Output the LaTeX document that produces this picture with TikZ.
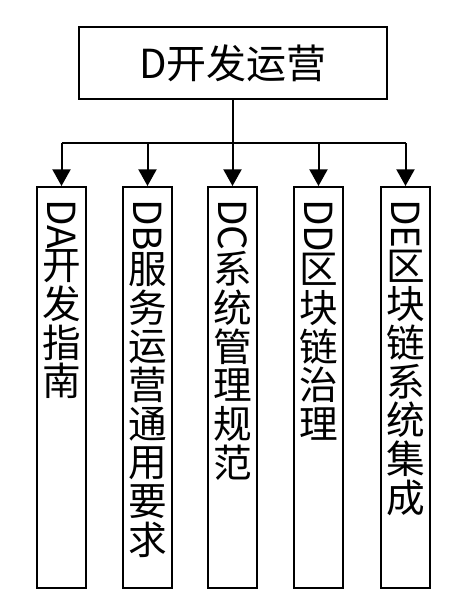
\documentclass[tikz,border=0pt]{standalone}
\usepackage{fontspec}
\setmainfont{Noto Sans CJK SC}
\usetikzlibrary{arrows.meta,positioning}
\newcommand\vlat[1]{\rotatebox{-90}{#1}}
\tikzset{every picture/.append style={line width=1.5pt}}

\begin{document}
\begin{tikzpicture}[x=0.75pt,y=-0.75pt]
      \tikzstyle{head}=[rectangle,draw,minimum width=231pt,minimum height=54pt,font=\fontsize{30}{30}\selectfont]
      \tikzstyle{column}=[rectangle,draw,minimum width=36.75pt,minimum height=300.75pt,anchor=north]
      \tikzstyle{vtext}=[anchor=north,align=center,inner sep=0pt,font=\fontsize{29}{29}\selectfont]
      \useasboundingbox (0,0) rectangle (460,612);
      \node[head] at (233,63) (D) {D开发运营};
      \coordinate (J) at (233,143);
      \node[column] at (61.5,186) (DA) {};
      \node[column] at (147.5,186) (DB) {};
      \node[column] at (232.5,186) (DC) {};
      \node[column] at (318.5,186) (DD) {};
      \node[column] at (405.5,186) (DE) {};
      \node[vtext,below=9pt of DA.north] (DAt) {\vlat{DA}\\开\\发\\指\\南};
      \node[vtext,below=9pt of DB.north] (DBt) {\vlat{DB}\\服\\务\\运\\营\\通\\用\\要\\求};
      \node[vtext,below=9pt of DC.north] (DCt) {\vlat{DC}\\系\\统\\管\\理\\规\\范};
      \node[vtext,below=9pt of DD.north] (DDt) {\vlat{DD}\\区\\块\\链\\治\\理};
      \node[vtext,below=9pt of DE.north] (DEt) {\vlat{DE}\\区\\块\\链\\系\\统\\集\\成};
      \draw (D) -- (J);
      \foreach \n/\x in {DA/61.5,DB/147.5,DC/232.5,DD/318.5,DE/405.5}{
        \coordinate (b\n) at (\x,143);
        \draw[-{Triangle[width=13.5pt,length=12.5pt]}] (b\n) -- (\n.north);
      }
      \draw (bDA) -- (bDE);
    \end{tikzpicture}
\end{document}
